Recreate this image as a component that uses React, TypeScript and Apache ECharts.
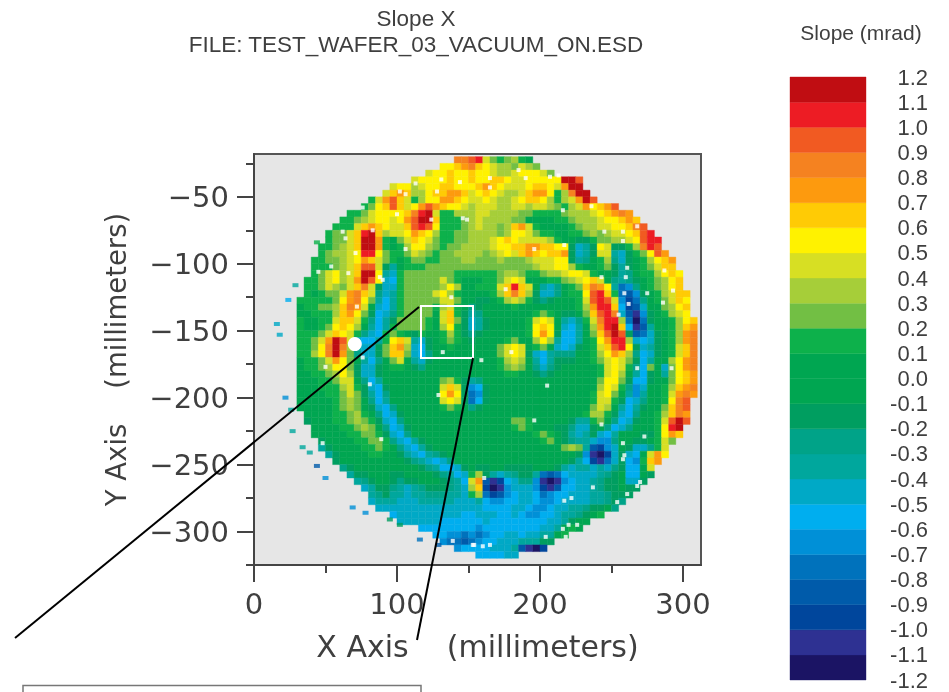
import React, { useEffect, useRef } from "react";
import * as echarts from "echarts";

const FONT = "'Liberation Sans', Arial, sans-serif";
const AXIS_FONT = "'DejaVu Sans ExtraLight', 'DejaVu Sans', sans-serif";
const TEXT = "#3f3f3f";

const chartTitle = "Slope X\nFILE: TEST_WAFER_03_VACUUM_ON.ESD";
const scaleTitle = "Slope (mrad)";
const xName = "X Axis\u00a0\u00a0\u00a0\u00a0(millimeters)";
const yName = "Y Axis\u00a0\u00a0\u00a0\u00a0(millimeters)";

const xMajorTicks = [0, 100, 200, 300];
const xMinorTicks = [50, 150, 250];
const yMajorTicks = [-50, -100, -150, -200, -250, -300];
const yMinorTicks = [-25, -75, -125, -175, -225, -275, -325];

// one letter per colour band, lowest band first
const levelLetters = "abcdefghijklmnopqrstuvwx";
const bandLows = [
  -1.2, -1.1, -1.0, -0.9, -0.8, -0.7, -0.6, -0.5, -0.4, -0.3, -0.2, -0.1,
  0.0, 0.1, 0.2, 0.3, 0.4, 0.5, 0.6, 0.7, 0.8, 0.9, 1.0, 1.1,
];
const bandColors = [
  "#1b1464", "#2e3192", "#00469c", "#005baa", "#0072bc", "#0090d7", "#00aeef", "#00a9c6",
  "#00a79d", "#00a388", "#009e60", "#00a651", "#00a651", "#0db14b", "#72bf44", "#a6ce39",
  "#d7df23", "#fff200", "#ffcb05", "#fd9a0e", "#f58220", "#f15a22", "#ed1c24", "#c00d12",
];

// slope map, 5 mm cells: first row y = -20..-25 mm, first column x = 0..5 mm; '.' = no data
const waferRows = [
  ".......... .......... ........uu vwqonopnl.",
  ".......... .......... ......rrst usrqppoqpo",
  ".......... .......... ....qrrsrr srrqppqrrr qo",
  ".......... .......... ..qrrrrsrr srrssrqqrr rrrxxv",
  ".......... .........q rrpqrrssrr rstsrqqqrs srqtxx",
  ".......... ........qs tspprsstts qrsrqppqst trnpuxx",
  ".......... ......nqtv sqnprrttsr qqrqppqrss rpnpqtxv",
  ".......... .....norsv sqrtvtsrrq pqqqppqqpq qponpqtrst v",
  ".......... ...nnoqrrr rsuwxqnnpp pqqppppoon nnnopppqrs tut",
  ".......... ..nnopqrrq rtvxxsnnno pqppppooll llnnopppqr rsts",
  ".......... .nnnqstsrq qsvwvrnnno pqppopstqn llllnoppqq rrsuv",
  ".......... nooqswxspq qrtsrpnnoo ppppoprrqo nnllnnopop qqrsvw",
  ".......... nooqsxxtnl oqsrqonnoo pppqrsrqqq qpnllkknoo ppqrvww",
  ".........n nopqsxxtnl nprrponoop pppqrrsstt ssrrkhikrq kknpuwv",
  ".........n oppqrwwron noqponoopp ppopqrqsts rsstkhikqq ihknorvt",
  "........nn oopqrtsqon lnoonnooop pooopooopq qqrrkijlnp jhklnprst",
  "........nn nopqsvvqki lnnnoooooo ooooooooop qqrrpnllno kiklnoqss",
  "........no qrpqsxxrih nooooooonn nnnnopponn oppqrrqnll kijlnnprsr",
  ".......nno qrpqtxvrhg noooooqonl llnnoqrqll lnnopqrsql jijklnoprs",
  ".......nno qpoqsuqkhh noooooprpl lnnnqswsql ihjlnosutr iefjlnoprs",
  ".......nln ooqtusqjhi nooooqrpnl lllnpsuspk hhjlnnrvws nedfklnpqs s",
  "......nnnn norturoigi noooooqqol lkklnpqpnk jklllnqvwv qfcejlnoqs r",
  "......lnno opsutqlhgi noooonpqnl jkllllnlll lllllnptww sgcdhllopr s",
  "......llnn npstrokghj noooolqsnk ijllllllln onlkklosvw uhdbfklnpq r",
  "......nlln nqssqnjgik oooonlqsok hiklllllnq rqlihjnquw wpeaekllnp rs",
  "......nlln orsrpligin oooonlprnk hiklllllnr srlhgilptw xsgbdillnp st",
  "......nnno qsrqnjhgno nlknllnpnk jkllllllnr trkggilosv xvkdehklnp tu",
  "......nnoq txvqhgginr sqihklnonl kllllnollp rpiggilnrt wwphghklnp tu",
  "......nnor uxupihhkos tphgkllnll lllloqrqln olhghklnqs vwrkhiklnq su",
  "......nnpr uxtojhhkos sohgjlllll lllloqrqkh gijjjllnpr tspjghklnq su",
  "......lnno qtroligjlo qlihklllll llllnpqpli gikkkllnoq rqokgillpr tu",
  "......lnno prrokhhkln nlkjllllll llllnopolj hjklllllnq rqnjgolhor tu",
  "......llnn oprpkhhkll llllllllll lllllnnllk jkllllllnq rpligklior st",
  "......llln noqqljgill llllllopnk ijllllllll llllllllor rokggkllor st",
  "......llln nnpqnkhgkl llllllqsqk fgklllllll llllllllpr qnjfhllnps tu",
  "......llll nnoqokigjl llllllrtrk efklllllll lllllllnqr olifillnqt ut",
  "......llll lnopoljgil llllllqrqk egklllllll lllllllnqq nkghjllnru v",
  "......llll lnopolkhgj llllllnonl jkllllllll llllllloqp ligikllosu v",
  ".......lll lnnopnljgh klllllllll llllllllll llllllnppn khgjllnpsu t",
  ".......kll lnnoponkhg jlllllllll lllllloonl llllkiinol jghkllnqvx v",
  "........ll llnnopoljg hkllllllll llllllnonl llkkjhhklj ghjlllnrwx",
  "........ll lllnnoonkh gjllllllll llllllllln onlkihikhg illlkknrts",
  ".........k llllnnoonj hgikllllll llllllllll nolkjiihff jllkklnqo",
  ".........i kllllnnonl jhgiklllll llllllllll lllopoidcf hlkhhjnq",
  ".......... ikllllnnll kihgijklll llllllllll lllllkfbac hkhglqtr",
  ".......... .kllllllll lkjihghjll llllllllll llllkigcbe hkgfnst",
  ".......... ..jkllllll lllkjigghk lkkllkkkkl llkihiihih jkgglq",
  ".......... ...ikklllk kllllkjigh npkihijkki edeghhhhij klgglk",
  ".......... ....ijkllk jkklllkjig qtdbcghjjf babfghhijk klhhk",
  ".......... .....hikkj ihijkkkjih pscabfhhhf cbdgghhijk klkk",
  ".......... ......ijki ihiijjjiih npecdfghhg efgghhhiij kkk",
  ".......... ......hiii hhhiiiiihh higffgghhg ffghhhhiij kj",
  ".......... .......hhh hhhhhhhhhh hhgggghhgf fghhiijkkl j",
  ".......... .........g hhhhhhhhhg ghhhgghgff gghiijkln.",
  ".......... .......... hhhhhhgggg gghggggggg ghhikll",
  ".......... .......... ...ggggggg gfgggggggg hhilnl",
  ".......... .......... .....ggffe fefgghhghh iiln",
  ".......... .......... ......feed efgghhhiii kk",
  ".......... .......... ........fg ggghhhidba c",
  ".......... .......... .......... .gggghh",
];

// isolated readings outside the main disc: x mm, y mm, band letter
const strayPoints: [number, number, string][] = [
  [29, -116, "i"], [24, -127, "g"], [16, -145, "h"], [18, -153, "h"], [44, -84, "n"],
  [22, -200, "f"], [26, -209, "i"], [27, -225, "i"], [34, -237, "i"], [39, -241, "i"],
  [44, -251, "d"], [50, -260, "f"], [69, -282, "f"], [78, -286, "f"], [95, -291, "k"],
  [102, -295, "k"], [116, -306, "e"], [129, -310, "d"],
];

// missing pixels (white): x mm, y mm
const missingPoints = [
  [144, -39], [131, -37], [128, -46], [102, -46], [106, -48], [146, -66], [149, -67], [124, -67],
  [100, -63], [83, -75], [62, -76], [64, -81], [71, -92], [54, -102], [45, -106], [66, -107],
  [88, -110], [90, -112], [106, -89], [138, -125], [72, -132], [132, -166], [113, -40], [76, -58],
  [165, -36], [165, -43], [185, -30], [190, -36], [213, -34], [207, -35], [216, -60], [236, -57],
  [245, -76], [258, -76], [258, -83], [268, -72], [261, -103], [260, -110], [243, -110], [259, -122],
  [262, -130], [255, -138], [275, -122], [286, -129], [287, -105], [293, -120], [196, -89], [176, -119],
  [180, -166], [217, -86], [76, -170], [50, -177], [81, -190], [129, -198], [89, -231], [48, -234],
  [153, -310], [139, -307], [159, -172], [205, -191], [196, -217], [243, -220], [273, -229], [258, -234],
  [259, -243], [258, -246], [268, -178], [292, -178], [161, -260], [237, -267], [270, -263], [268, -266],
  [261, -272], [254, -278], [217, -277], [222, -275], [220, -295], [226, -295], [216, -298], [204, -304],
  [160, -311], [165, -310], [154, -310], [218, -304],
];
const missingBlob = [[70.5, -160]];

function bandIndex(v: number) {
  for (let i = bandLows.length - 1; i >= 0; i--) if (v >= bandLows[i] - 1e-9) return i;
  return 0;
}
const letterValue = (ch: string) => bandLows[levelLetters.indexOf(ch)] + 0.05;

const waferData: number[][] = [];
waferRows.forEach((row, r) => {
  row.replace(/ /g, "").split("").forEach((ch, c) => {
    if (levelLetters.includes(ch)) waferData.push([5 * c + 2.5, -22.5 - 5 * r, letterValue(ch)]);
  });
});
const strayData = strayPoints.map(([x, y, ch]) => [x, y, letterValue(ch)]);

const axisStroke = { color: "#444", width: 2 };
const axisFont = { fontFamily: AXIS_FONT, fontSize: 29, color: TEXT };

function buildOption(): any {
  return {
    animation: false,
    backgroundColor: "#fff",
    title: [
      {
        text: chartTitle,
        left: 411,
        top: 0,
        textAlign: "center",
        textStyle: { fontFamily: FONT, fontSize: 22.5, fontWeight: "normal", color: TEXT, lineHeight: 26 },
      },
      {
        text: scaleTitle,
        left: 856,
        top: 17,
        textAlign: "center",
        textStyle: { fontFamily: FONT, fontSize: 21, fontWeight: "normal", color: TEXT },
      },
    ],
    grid: [
      { left: 254, top: 154, width: 447, height: 411, show: true, backgroundColor: "#e6e6e6", borderColor: "#555", borderWidth: 2 },
      { left: 790, top: 77, width: 76, height: 603 },
    ],
    xAxis: [
      {
        gridIndex: 0, type: "value", min: 0, max: 312.6, position: "bottom",
        name: xName, nameLocation: "middle", nameGap: 66,
        nameTextStyle: { fontFamily: AXIS_FONT, fontSize: 30, color: TEXT },
        splitLine: { show: false },
        axisLine: { show: true, onZero: false, lineStyle: axisStroke },
        axisTick: { show: true, length: 17, customValues: xMajorTicks, lineStyle: axisStroke },
        axisLabel: { ...axisFont, margin: 24, customValues: xMajorTicks, hideOverlap: false },
      },
      {
        gridIndex: 0, type: "value", min: 0, max: 312.6, position: "bottom",
        splitLine: { show: false },
        axisLine: { show: false, onZero: false },
        axisTick: { show: true, length: 8, customValues: xMinorTicks, lineStyle: axisStroke },
        axisLabel: { show: false },
      },
      { gridIndex: 1, type: "value", min: 0, max: 1, show: false },
    ],
    yAxis: [
      {
        gridIndex: 0, type: "value", min: -325, max: -18, position: "left",
        name: yName, nameLocation: "middle", nameGap: 124, nameRotate: 90,
        nameTextStyle: { fontFamily: AXIS_FONT, fontSize: 27.5, color: TEXT },
        splitLine: { show: false },
        axisLine: { show: true, onZero: false, lineStyle: axisStroke },
        axisTick: { show: true, length: 17, customValues: yMajorTicks, lineStyle: axisStroke },
        axisLabel: {
          ...axisFont, margin: 25, customValues: yMajorTicks,
          formatter: (v: number) => `\u2212${Math.abs(v)}`,
        },
      },
      {
        gridIndex: 0, type: "value", min: -325, max: -18, position: "left",
        splitLine: { show: false },
        axisLine: { show: false, onZero: false },
        axisTick: { show: true, length: 8, customValues: yMinorTicks, lineStyle: axisStroke },
        axisLabel: { show: false },
      },
      {
        gridIndex: 1, type: "value", min: -1.2, max: 1.2, interval: 0.1, position: "right",
        splitLine: { show: false },
        axisLine: { show: false, onZero: false },
        axisTick: { show: false },
        axisLabel: {
          fontFamily: FONT, fontSize: 22, color: TEXT, margin: 62, align: "right",
          showMinLabel: true, showMaxLabel: true,
          formatter: (v: number) => v.toFixed(1),
        },
      },
    ],
    series: [
      {
        type: "custom",
        name: "Slope X",
        xAxisIndex: 0,
        yAxisIndex: 0,
        silent: true,
        data: waferData,
        renderItem: (_p: any, api: any) => {
          const [cx, cy] = api.coord([api.value(0), api.value(1)]);
          const [w, h] = api.size([5, 5]);
          const fill = bandColors[bandIndex(api.value(2))];
          return {
            type: "rect",
            shape: { x: cx - w / 2, y: cy - h / 2, width: w, height: h },
            style: { fill, stroke: fill, lineWidth: 0.4 },
          };
        },
      },
      {
        type: "scatter",
        xAxisIndex: 0,
        yAxisIndex: 0,
        silent: true,
        symbol: "rect",
        symbolSize: [6, 4],
        data: strayData,
        itemStyle: { color: (p: any) => bandColors[bandIndex(p.value[2])] },
      },
      {
        type: "scatter",
        xAxisIndex: 0,
        yAxisIndex: 0,
        silent: true,
        symbol: "rect",
        symbolSize: 4,
        data: missingPoints,
        itemStyle: { color: "#fff" },
      },
      {
        type: "scatter",
        xAxisIndex: 0,
        yAxisIndex: 0,
        silent: true,
        symbol: "circle",
        symbolSize: 14,
        data: missingBlob,
        itemStyle: { color: "#fff", opacity: 1 },
      },
      {
        type: "custom",
        name: "Slope scale",
        xAxisIndex: 2,
        yAxisIndex: 2,
        silent: true,
        data: bandLows.map((low) => [low]),
        renderItem: (_p: any, api: any) => {
          const low = api.value(0);
          const a = api.coord([0, low + 0.1]);
          const b = api.coord([1, low]);
          const fill = bandColors[bandIndex(low + 0.05)];
          return {
            type: "rect",
            shape: { x: a[0], y: a[1], width: b[0] - a[0], height: b[1] - a[1] },
            style: { fill, stroke: fill, lineWidth: 0.4 },
          };
        },
      },
    ],
    graphic: [
      { type: "rect", z: 50, shape: { x: 421, y: 306, width: 52, height: 52 }, style: { fill: "none", stroke: "#fff", lineWidth: 2 } },
      { type: "line", z: 51, shape: { x1: 419, y1: 307, x2: 15, y2: 638 }, style: { stroke: "#000", lineWidth: 2 } },
      { type: "line", z: 51, shape: { x1: 473, y1: 358, x2: 417, y2: 640 }, style: { stroke: "#000", lineWidth: 2 } },
      { type: "rect", z: 50, shape: { x: 23, y: 685.5, width: 398, height: 30 }, style: { fill: "#fff", stroke: "#777", lineWidth: 1.5 } },
    ],
  };
}

export default function App() {
  const ref = useRef<HTMLDivElement>(null);
  useEffect(() => {
    document.body.style.margin = "0";
    const chart = echarts.init(ref.current!, undefined, { renderer: "svg", width: 949, height: 692 });
    chart.setOption(buildOption());
    return () => chart.dispose();
  }, []);
  return <div ref={ref} style={{ width: 949, height: 692, overflow: "hidden", filter: "blur(0.5px)" }} />;
}
